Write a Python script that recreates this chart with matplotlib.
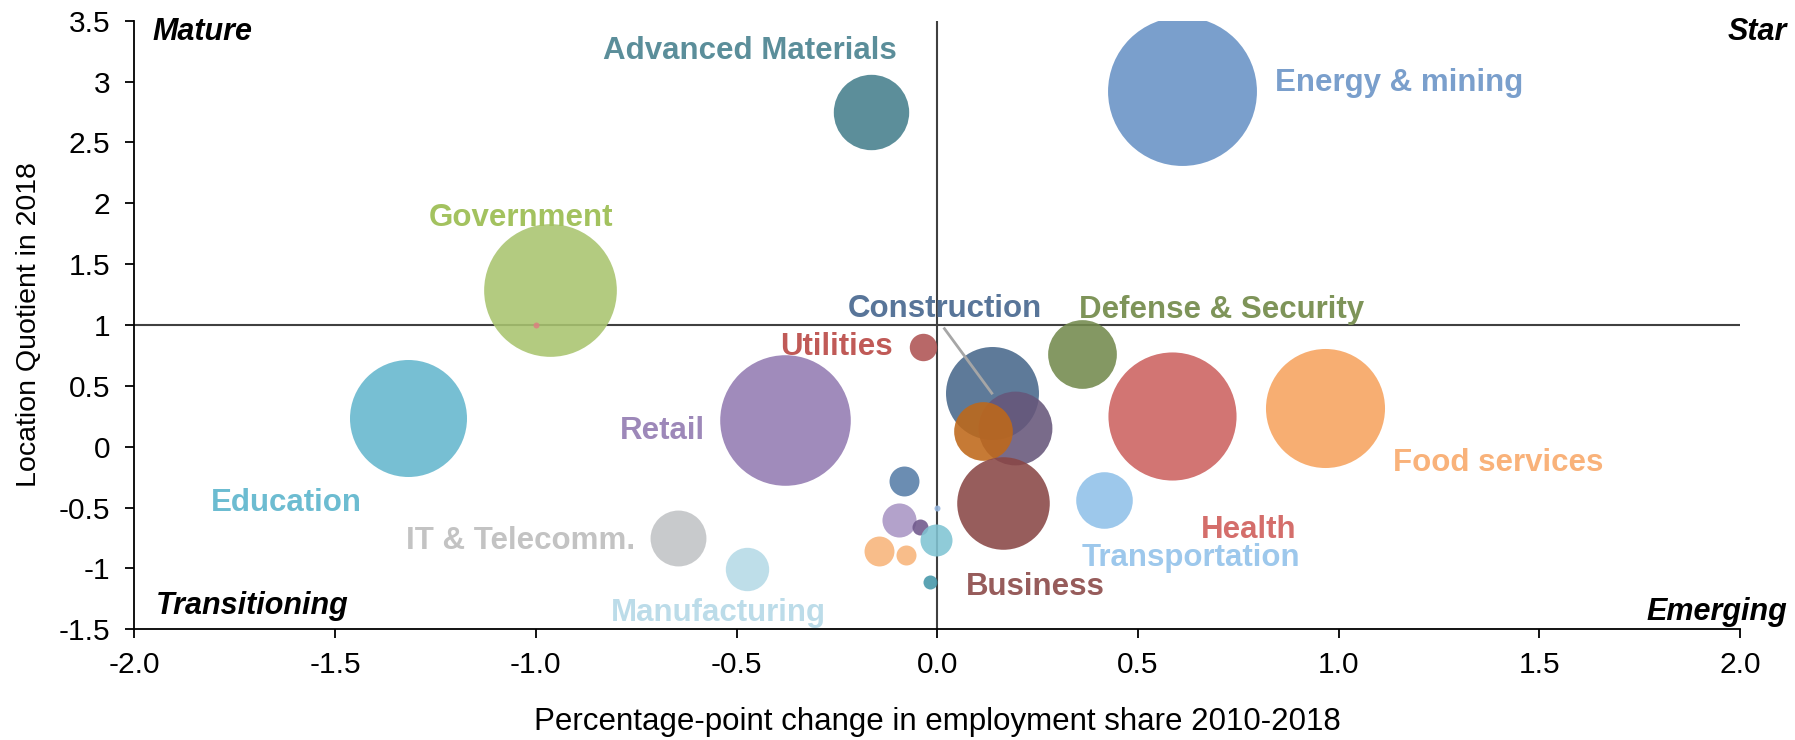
import numpy as np
import matplotlib
matplotlib.use("Agg")
import matplotlib.pyplot as plt
from matplotlib.colors import to_rgb

plt.rcParams['font.family'] = ['Liberation Sans', 'DejaVu Sans']

# sectors: change in employment share (pp), location quotient, employment (thousands)
sectors = ["Energy & mining", "Advanced Materials", "Government", "Education", "Retail",
           "Food services", "Health", "Defense & Security", "Construction", "",
           "", "Business", "Transportation", "Utilities", "IT & Telecomm.",
           "Manufacturing", "", "", "", "", "", "", "", "", ""]
share_change = [0.61, -0.165, -0.965, -1.318, -0.38,
                0.965, 0.585, 0.36, 0.136, 0.195,
                0.114, 0.163, 0.416, -0.035, -0.646,
                -0.473, -0.083, -0.096, -0.042, -0.002, 0.0, -0.146, -0.077, -0.017, -1.0]
loc_quotient = [2.92, 2.75, 1.29, 0.24, 0.22,
                0.32, 0.25, 0.76, 0.44, 0.15,
                0.13, -0.466, -0.436, 0.816, -0.747,
                -1.007, -0.28, -0.60, -0.66, -0.77, -0.5, -0.86, -0.89, -1.115, 1.0]
employment = [277, 71, 220, 171, 213,
              177, 205, 59, 108, 68,
              43, 107, 40, 9.4, 39,
              23.5, 11.2, 14.5, 3.2, 12.8, 0.45, 11.2, 5, 2.45, 0.45]

x_ticks = [-2.0, -1.5, -1.0, -0.5, 0.0, 0.5, 1.0, 1.5, 2.0]
y_ticks = [-1.5, -1, -0.5, 0, 0.5, 1, 1.5, 2, 2.5, 3, 3.5]

# styling
bubble_colors = ["#7a9fcc", "#5b8e9a", "#b3cb80", "#77bfd3", "#a08bbb",
                 "#f7ae72", "#d27573", "#849862", "#5e7a99", "#786a8a",
                 "#c77a35", "#975c5b", "#9dc8ec", "#b96868", "#c8cacc",
                 "#bedeea", "#6a8db2", "#b3a2cb", "#7f6b99", "#8fcbd8",
                 "#a0bde0", "#f9bd8a", "#f9bd8a", "#5aa3b3", "#e09090"]
label_colors = {"Energy & mining": "#7a9fcc", "Advanced Materials": "#5b8e9a",
                "Government": "#a3c25f", "Education": "#6cbcd1", "Retail": "#9d88b9",
                "Food services": "#f9b27a", "Health": "#d46e6b",
                "Defense & Security": "#7e9459", "Construction": "#587599",
                "Business": "#975c5b", "Transportation": "#9dc8ec",
                "Utilities": "#c05a57", "IT & Telecomm.": "#c3c3c3",
                "Manufacturing": "#bcdce9"}
# label anchor (baseline centre) in data coords
label_pos = {"Energy & mining": (1.150, 2.92), "Advanced Materials": (-0.468, 3.184),
             "Government": (-1.036, 1.81), "Education": (-1.621, -0.524),
             "Retail": (-0.685, 0.06), "Food services": (1.398, -0.196),
             "Health": (0.776, -0.752), "Defense & Security": (0.708, 1.056),
             "Construction": (0.0185, 1.066), "Business": (0.245, -1.215),
             "Transportation": (0.633, -0.978), "Utilities": (-0.251, 0.755),
             "IT & Telecomm.": (-1.037, -0.837), "Manufacturing": (-0.545, -1.432)}

ALPHA = 0.88
SIZE_SCALE = 41.5


def base_color(c, a=ALPHA):
    # colour that gives c when drawn with alpha a on white
    rgb = np.array(to_rgb(c))
    return tuple(np.clip((rgb - (1 - a)) / a, 0, 1))


fig = plt.figure(figsize=(17.95, 7.4), dpi=100)
ax = fig.add_axes([0.07493, 0.1496, 0.8944, 0.8224])
ax.set_xlim(-2.0, 2.0)
ax.set_ylim(-1.5, 3.5)

ax.axvline(0, color="#404040", lw=1.5, zorder=1)
ax.axhline(1, color="#404040", lw=1.5, zorder=1)

# leader line for Construction
ax.plot([0.018, 0.136], [0.97, 0.44], color="#a6a6a6", lw=2, zorder=3)

for i in range(len(sectors)):
    ax.scatter(share_change[i], loc_quotient[i], s=employment[i] * SIZE_SCALE,
               color=base_color(bubble_colors[i]), alpha=ALPHA, linewidths=0,
               zorder=2 + i * 0.01)

for name, (lx, ly) in label_pos.items():
    ax.text(lx, ly, name, color=label_colors[name], fontsize=22.5, fontweight="bold",
            ha="center", va="baseline", zorder=5)

# quadrant names
qkw = dict(fontsize=22, fontweight="bold", fontstyle="italic", color="black",
           transform=ax.transAxes, va="baseline", clip_on=False)
ax.text(0.0115, 0.968, "Mature", ha="left", **qkw)
ax.text(1.0296, 0.968, "Star", ha="right", **qkw)
ax.text(0.013, 0.025, "Transitioning", ha="left", **qkw)
ax.text(1.0296, 0.016, "Emerging", ha="right", **qkw)

for side in ["top", "right"]:
    ax.spines[side].set_visible(False)
for side in ["left", "bottom"]:
    ax.spines[side].set_linewidth(1.3)

ax.set_xticks(x_ticks)
ax.set_xticklabels(["%.1f" % t for t in x_ticks])
ax.set_yticks(y_ticks)
ax.set_yticklabels(["%g" % t for t in y_ticks])
ax.tick_params(axis="both", direction="out", length=6.5, width=1.3, labelsize=21.5)
ax.tick_params(axis="x", pad=9)
ax.tick_params(axis="y", pad=11)

ax.set_xlabel("Percentage-point change in employment share 2010-2018", fontsize=22.5, labelpad=20)
ax.set_ylabel("Location Quotient in 2018", fontsize=20.5, labelpad=12)

fig.savefig("out.png", dpi=100)
